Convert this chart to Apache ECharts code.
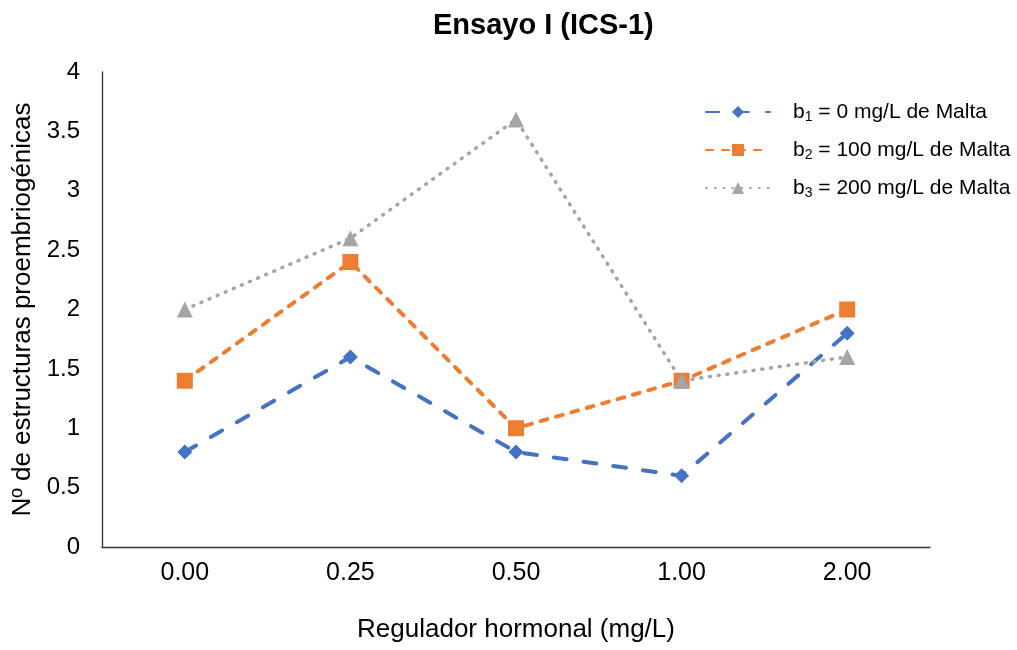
<!DOCTYPE html>
<html>
<head>
<meta charset="utf-8">
<script src="https://cdn.jsdelivr.net/npm/echarts@6/dist/echarts.min.js"></script>
<style>
  html, body { margin: 0; padding: 0; background: #fff; }
  #chart { width: 1017px; height: 650px; }
</style>
</head>
<body>
<div id="chart"></div>
<script>
var categories = ['0.00', '0.25', '0.50', '1.00', '2.00'];
var b1 = [0.8, 1.6, 0.8, 0.6, 1.8];
var b2 = [1.4, 2.4, 1.0, 1.4, 2.0];
var b3 = [2.0, 2.6, 3.6, 1.4, 1.6];
var seriesNames = ['b1', 'b2', 'b3'];
var legendLabels = {
  b1: '{t|b}{s|1}{t| = 0 mg/L de Malta}',
  b2: '{t|b}{s|2}{t| = 100 mg/L de Malta}',
  b3: '{t|b}{s|3}{t| = 200 mg/L de Malta}'
};

var font = '"Liberation Sans", Arial, sans-serif';
var myChart = echarts.init(document.getElementById('chart'));

myChart.setOption({
  backgroundColor: '#fff',
  title: {
    text: 'Ensayo I (ICS-1)',
    left: 428,
    top: 6,
    textStyle: { fontFamily: font, fontSize: 29, fontWeight: 'bold', color: '#000' }
  },
  legend: {
    orient: 'vertical',
    left: 700,
    top: 96,
    itemWidth: 64,
    itemHeight: 15,
    itemGap: 15,
    data: seriesNames,
    formatter: function (name) { return legendLabels[name]; },
    textStyle: {
      padding: [0, 0, 0, 18],
      rich: {
        t: { fontFamily: font, fontSize: 21, color: '#000', lineHeight: 24 },
        s: { fontFamily: font, fontSize: 14, color: '#000', lineHeight: 24, verticalAlign: 'bottom', padding: [9, 0, 0, 0] }
      }
    }
  },
  grid: { left: 102, right: 87, top: 72, bottom: 103, outerBoundsMode: 'none' },
  xAxis: {
    type: 'category',
    data: categories,
    boundaryGap: true,
    name: 'Regulador hormonal (mg/L)',
    nameLocation: 'middle',
    nameGap: 70,
    nameTextStyle: { fontFamily: font, fontSize: 26, color: '#000' },
    axisLine: { lineStyle: { color: '#333', width: 1.3 } },
    axisTick: { show: false },
    axisLabel: { fontFamily: font, fontSize: 25, color: '#000', margin: 14 }
  },
  yAxis: {
    type: 'value',
    min: 0,
    max: 4,
    interval: 0.5,
    name: 'Nº de estructuras proembriogénicas',
    nameLocation: 'middle',
    nameGap: 66,
    nameTextStyle: { fontFamily: font, fontSize: 26, color: '#000' },
    axisLine: { show: true, lineStyle: { color: '#333', width: 1.3 } },
    axisTick: { show: false },
    splitLine: { show: false },
    axisLabel: { fontFamily: font, fontSize: 24, color: '#000', margin: 22 }
  },
  series: [
    {
      name: 'b1',
      type: 'line',
      data: b1,
      symbol: 'diamond',
      symbolSize: 15,
      itemStyle: { color: '#4472C4' },
      lineStyle: { color: '#4472C4', width: 4, type: [13, 17], cap: 'round' }
    },
    {
      name: 'b2',
      type: 'line',
      data: b2,
      symbol: 'rect',
      symbolSize: 16,
      itemStyle: { color: '#ED7D31' },
      lineStyle: { color: '#ED7D31', width: 4, type: [7, 9], cap: 'round' }
    },
    {
      name: 'b3',
      type: 'line',
      data: b3,
      symbol: 'triangle',
      symbolSize: 16,
      itemStyle: { color: '#A5A5A5' },
      lineStyle: { color: '#A5A5A5', width: 3.5, type: [1, 7.8], cap: 'round' }
    }
  ]
});
</script>
</body>
</html>
